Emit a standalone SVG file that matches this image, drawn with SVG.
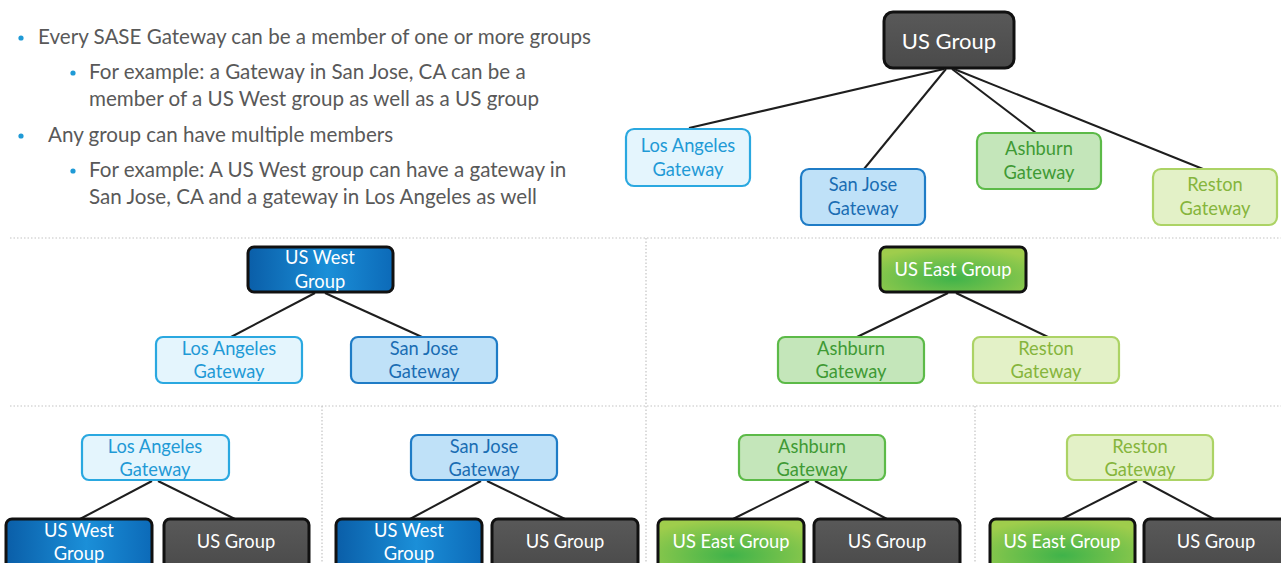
<svg xmlns="http://www.w3.org/2000/svg" width="1281" height="563" viewBox="0 0 1281 563">
<defs>
<linearGradient id="gWest" x1="0" y1="0" x2="1" y2="0">
<stop offset="0" stop-color="#0a5ea8"/><stop offset="0.55" stop-color="#1b8fd8"/><stop offset="1" stop-color="#0c6ab8"/>
</linearGradient>
<radialGradient id="gEast" cx="0.5" cy="0.7" r="0.7">
<stop offset="0" stop-color="#3fb34a"/><stop offset="1" stop-color="#9fcd4c"/>
</radialGradient>
<linearGradient id="gUS" x1="0" y1="0" x2="0" y2="1">
<stop offset="0" stop-color="#595959"/><stop offset="1" stop-color="#4a4a4a"/>
</linearGradient>
</defs>
<style>
text{font-family:Lato,"Liberation Sans",sans-serif}
.b{font-size:20.6px;fill:#595959}
.dot{fill:#1f9ad6}
.sep{stroke:#c4c4c4;stroke-width:1.2;stroke-dasharray:1.5 2;fill:none}
.ln{stroke:#1e1e1e;stroke-width:2;fill:none}
.t{font-size:18.3px;text-anchor:middle}
.tw{fill:#fff}
.us rect{fill:url(#gUS);stroke:#111;stroke-width:3}
.west rect{fill:url(#gWest);stroke:#111;stroke-width:3}
.east rect{fill:url(#gEast);stroke:#111;stroke-width:3}
.la rect{fill:#e4f5fd;stroke:#2aa8e0;stroke-width:2.2}
.la text{fill:#1f9ad6}
.sj rect{fill:#bfe1f8;stroke:#1f7cc6;stroke-width:2.2}
.sj text{fill:#1a6db3}
.ash rect{fill:#c4e6ba;stroke:#5cba48;stroke-width:2.2}
.ash text{fill:#3f9a34}
.res rect{fill:#e3f1c7;stroke:#acd365;stroke-width:2.2}
.res text{fill:#86b53c}
</style>

<g id="bullets">
<circle class="dot" cx="21" cy="38" r="2.6"/>
<text class="b" x="38" y="44">Every SASE Gateway can be a member of one or more groups</text>
<circle class="dot" cx="73" cy="73" r="2.6"/>
<text class="b" x="89" y="79">For example: a Gateway in San Jose, CA can be a</text>
<text class="b" x="89" y="106">member of a US West group as well as a US group</text>
<circle class="dot" cx="21" cy="136" r="2.6"/>
<text class="b" x="48" y="142">Any group can have multiple members</text>
<circle class="dot" cx="73" cy="171" r="2.6"/>
<text class="b" x="89" y="177">For example: A US West group can have a gateway in</text>
<text class="b" x="89" y="204">San Jose, CA and a gateway in Los Angeles as well</text>
</g>

<g id="separators">
<line class="sep" x1="10" y1="238" x2="1281" y2="238"/>
<line class="sep" x1="10" y1="406" x2="1281" y2="406"/>
<line class="sep" x1="646" y1="238" x2="646" y2="563"/>
<line class="sep" x1="322" y1="406" x2="322" y2="563"/>
<line class="sep" x1="975" y1="406" x2="975" y2="563"/>
</g>

<g id="connectors">
<line class="ln" x1="944" y1="69" x2="689" y2="128"/>
<line class="ln" x1="946" y1="69" x2="864" y2="169"/>
<line class="ln" x1="952" y1="69" x2="1036" y2="133"/>
<line class="ln" x1="954" y1="69" x2="1203" y2="169"/>
<line class="ln" x1="315" y1="293" x2="231" y2="337"/>
<line class="ln" x1="325" y1="293" x2="422" y2="337"/>
<line class="ln" x1="948" y1="293" x2="857" y2="337"/>
<line class="ln" x1="956" y1="293" x2="1048" y2="337"/>
<line class="ln" x1="152" y1="481" x2="80" y2="519"/>
<line class="ln" x1="158" y1="481" x2="235" y2="519"/>
<line class="ln" x1="481" y1="481" x2="410" y2="519"/>
<line class="ln" x1="487" y1="481" x2="565" y2="519"/>
<line class="ln" x1="809" y1="481" x2="733" y2="519"/>
<line class="ln" x1="815" y1="481" x2="887" y2="519"/>
<line class="ln" x1="1137" y1="481" x2="1062" y2="519"/>
<line class="ln" x1="1143" y1="481" x2="1214" y2="519"/>
</g>

<g id="usgroup-top" class="us">
<rect x="884" y="12" width="130" height="56" rx="9"/>
<text class="t tw" x="949" y="49" style="font-size:22px">US Group</text>
</g>
<g id="la-top" class="la">
<rect x="626" y="129" width="124" height="57" rx="8"/>
<text class="t" x="688" y="152">Los Angeles</text><text class="t" x="688" y="176">Gateway</text>
</g>
<g id="sj-top" class="sj">
<rect x="801" y="169" width="124" height="56" rx="8"/>
<text class="t" x="863" y="191">San Jose</text><text class="t" x="863" y="215">Gateway</text>
</g>
<g id="ash-top" class="ash">
<rect x="977" y="133" width="124" height="56" rx="8"/>
<text class="t" x="1039" y="155">Ashburn</text><text class="t" x="1039" y="179">Gateway</text>
</g>
<g id="res-top" class="res">
<rect x="1153" y="169" width="124" height="56" rx="8"/>
<text class="t" x="1215" y="191">Reston</text><text class="t" x="1215" y="215">Gateway</text>
</g>

<g id="uswest-mid" class="west">
<rect x="248" y="247" width="145" height="45" rx="6"/>
<text class="t tw" x="320" y="264">US West</text><text class="t tw" x="320" y="288">Group</text>
</g>
<g id="la-mid" class="la">
<rect x="156" y="337" width="146" height="46" rx="7"/>
<text class="t" x="229" y="355">Los Angeles</text><text class="t" x="229" y="378">Gateway</text>
</g>
<g id="sj-mid" class="sj">
<rect x="351" y="337" width="146" height="46" rx="7"/>
<text class="t" x="424" y="355">San Jose</text><text class="t" x="424" y="378">Gateway</text>
</g>
<g id="useast-mid" class="east">
<rect x="880" y="247" width="146" height="45" rx="6"/>
<text class="t tw" x="953" y="276">US East Group</text>
</g>
<g id="ash-mid" class="ash">
<rect x="778" y="337" width="146" height="46" rx="7"/>
<text class="t" x="851" y="355">Ashburn</text><text class="t" x="851" y="378">Gateway</text>
</g>
<g id="res-mid" class="res">
<rect x="973" y="337" width="146" height="46" rx="7"/>
<text class="t" x="1046" y="355">Reston</text><text class="t" x="1046" y="378">Gateway</text>
</g>

<g id="la-bot" class="la">
<rect x="82" y="435" width="147" height="45" rx="7"/>
<text class="t" x="155" y="453">Los Angeles</text><text class="t" x="155" y="476">Gateway</text>
</g>
<g id="uswest-bot1" class="west">
<rect x="6" y="519" width="146" height="52" rx="6"/>
<text class="t tw" x="79" y="537">US West</text><text class="t tw" x="79" y="560">Group</text>
</g>
<g id="usgroup-bot1" class="us">
<rect x="164" y="519" width="145" height="52" rx="6"/>
<text class="t tw" x="236" y="548">US Group</text>
</g>

<g id="sj-bot" class="sj">
<rect x="411" y="435" width="146" height="45" rx="7"/>
<text class="t" x="484" y="453">San Jose</text><text class="t" x="484" y="476">Gateway</text>
</g>
<g id="uswest-bot2" class="west">
<rect x="336" y="519" width="146" height="52" rx="6"/>
<text class="t tw" x="409" y="537">US West</text><text class="t tw" x="409" y="560">Group</text>
</g>
<g id="usgroup-bot2" class="us">
<rect x="492" y="519" width="146" height="52" rx="6"/>
<text class="t tw" x="565" y="548">US Group</text>
</g>

<g id="ash-bot" class="ash">
<rect x="739" y="435" width="146" height="45" rx="7"/>
<text class="t" x="812" y="453">Ashburn</text><text class="t" x="812" y="476">Gateway</text>
</g>
<g id="useast-bot3" class="east">
<rect x="658" y="519" width="146" height="52" rx="6"/>
<text class="t tw" x="731" y="548">US East Group</text>
</g>
<g id="usgroup-bot3" class="us">
<rect x="814" y="519" width="146" height="52" rx="6"/>
<text class="t tw" x="887" y="548">US Group</text>
</g>

<g id="res-bot" class="res">
<rect x="1067" y="435" width="146" height="45" rx="7"/>
<text class="t" x="1140" y="453">Reston</text><text class="t" x="1140" y="476">Gateway</text>
</g>
<g id="useast-bot4" class="east">
<rect x="990" y="519" width="145" height="52" rx="6"/>
<text class="t tw" x="1062" y="548">US East Group</text>
</g>
<g id="usgroup-bot4" class="us">
<rect x="1144" y="519" width="145" height="52" rx="6"/>
<text class="t tw" x="1216" y="548">US Group</text>
</g>
</svg>
